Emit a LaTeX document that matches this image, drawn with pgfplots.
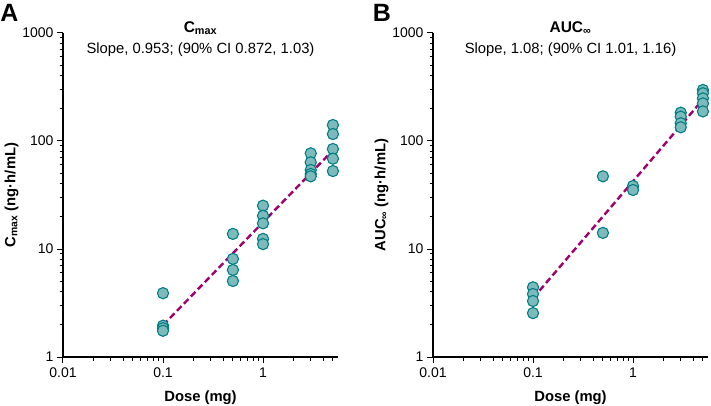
\documentclass[border=0pt]{standalone}
\usepackage{pgfplots}
\pgfplotsset{compat=1.18}
\usepackage{fontspec}
\setmainfont{Liberation Sans}
\definecolor{mfill}{RGB}{125,186,188}
\definecolor{medge}{RGB}{0,126,132}
\definecolor{fitline}{RGB}{160,0,110}
\pgfplotsset{
  panel/.style={
    scale only axis, width=275pt, height=324pt,
    anchor=south west,
    xmin=0.01, xmax=5.62, ymin=1, ymax=1000,
    axis lines=left, axis line style={-, line width=1.2pt},
    tick align=outside, tick pos=left,
    major tick length=6pt, minor tick length=3.5pt,
    every tick/.style={black, line width=1pt},
    xtick={0.01,0.1,1}, xticklabels={0.01,0.1,1},
    ytick={1,10,100,1000}, yticklabels={1,10,100,1000},
    minor xtick={0.02,0.03,0.04,0.05,0.06,0.07,0.08,0.09,0.2,0.3,0.4,0.5,0.6,0.7,0.8,0.9,2,3,4,5},
    minor ytick={2,3,4,5,6,7,8,9,20,30,40,50,60,70,80,90,200,300,400,500,600,700,800,900},
    tick label style={font=\fontsize{14}{16}\selectfont},
    xticklabel style={yshift=-1pt},
    label style={font=\fontsize{14.8}{17}\selectfont\bfseries},
    xlabel={Dose (mg)},
    xlabel style={yshift=-6pt},
    ylabel shift=-3pt,
    clip=false,
  },
  dots/.style={only marks, mark=*, mark size=5.6pt, mark options={fill=mfill, draw=medge, line width=1.1pt}},
  fitln/.style={no marks, fitline, line width=2.4pt, dash pattern=on 6.5pt off 3.5pt},
}
\begin{document}
\begin{tikzpicture}
\useasboundingbox (0,0) rectangle (711pt,-406pt);
\node[font=\fontsize{25}{27}\selectfont\bfseries] at (9.5pt,-13pt) {A};
\node[font=\fontsize{25}{27}\selectfont\bfseries] at (382pt,-13pt) {B};
\begin{loglogaxis}[panel, at={(63pt,-357pt)},
  ylabel={C\textsubscript{max} (ng·h/mL)}]
\addplot[fitln] coordinates {(0.1,1.97) (5,82)};
\addplot[dots] coordinates {
(0.1,3.9) (0.1,1.95) (0.1,1.85) (0.1,1.75)
(0.5,13.8) (0.5,8.1) (0.5,6.4) (0.5,5.06)
(1,25.2) (1,20.3) (1,17.3) (1,12.4) (1,11.1)
(3,76.9) (3,63.5) (3,53.9) (3,49.5) (3,47.1)
(5,140.6) (5,116) (5,84.3) (5,68.6) (5,52.7)
};
\node[font=\fontsize{15.5}{17}\selectfont\bfseries] at (rel axis cs:0.5,1) [yshift=5pt] {C\textsubscript{max}};
\node[font=\fontsize{14.8}{17}\selectfont] at (rel axis cs:0.5,1) [yshift=-17pt] {Slope, 0.953; (90\% CI 0.872, 1.03)};
\end{loglogaxis}
\begin{loglogaxis}[panel, at={(433pt,-357pt)},
  ylabel={AUC\textsubscript{∞} (ng·h/mL)}]
\addplot[fitln] coordinates {(0.1,3.5) (5.62,275)};
\addplot[dots] coordinates {
(0.1,4.42) (0.1,3.83) (0.1,3.30) (0.1,2.55)
(0.5,47.1) (0.5,14.1)
(1,38.3) (1,35.2)
(3,183) (3,168) (3,146) (3,134)
(5,297) (5,277) (5,248) (5,223) (5,188)
};
\node[font=\fontsize{15.5}{17}\selectfont\bfseries] at (rel axis cs:0.5,1) [yshift=5pt] {AUC\textsubscript{∞}};
\node[font=\fontsize{14.8}{17}\selectfont] at (rel axis cs:0.5,1) [yshift=-17pt] {Slope, 1.08; (90\% CI 1.01, 1.16)};
\end{loglogaxis}
\end{tikzpicture}
\end{document}
